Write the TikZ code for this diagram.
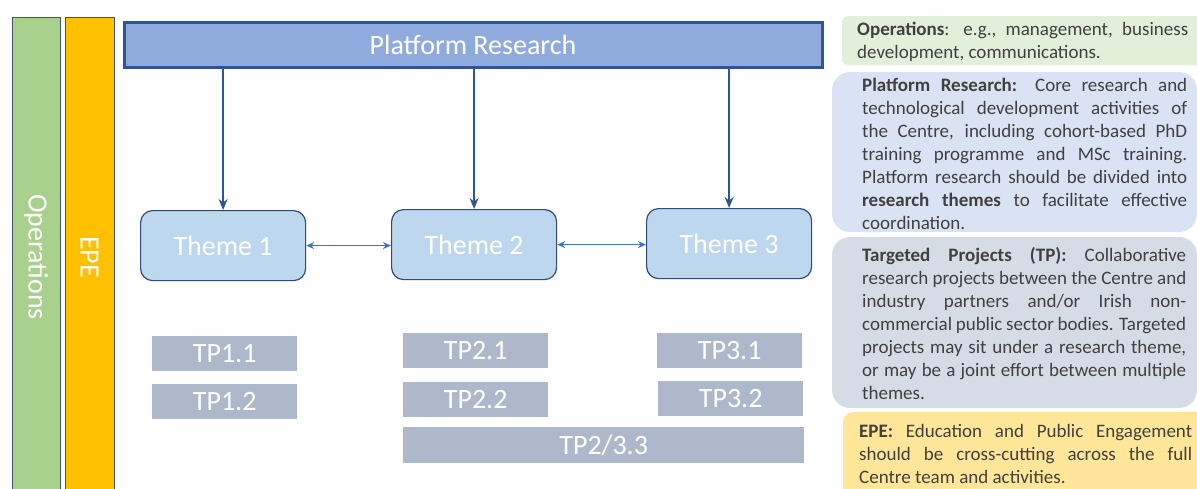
\documentclass[tikz,border=0pt]{standalone}
\usepackage{fontspec}
\setmainfont{Carlito}
\usetikzlibrary{arrows.meta}
\hyphenpenalty=10000
\tolerance=10000
\definecolor{opsgreen}{HTML}{A9D18E}
\definecolor{epegold}{HTML}{FFC000}
\definecolor{barline}{HTML}{44546A}
\definecolor{prfill}{HTML}{8FAADC}
\definecolor{prline}{HTML}{2F5597}
\definecolor{themefill}{HTML}{BDD7EE}
\definecolor{themeline}{HTML}{2F4B7C}
\definecolor{linkblue}{HTML}{4472C4}
\definecolor{tpfill}{HTML}{ADB9CA}
\definecolor{opslight}{HTML}{E2F0D9}
\definecolor{prlight}{HTML}{DAE3F3}
\definecolor{tplight}{HTML}{D6DCE5}
\definecolor{epelight}{HTML}{FFE699}
\definecolor{bodytext}{HTML}{404040}
\tikzset{
  bigfont/.style={font=\fontsize{28}{33}\selectfont, text=white},
  bar/.style={draw=barline, line width=1pt},
  theme/.style={bigfont, draw=themeline, line width=1.2pt, fill=themefill,
    rounded corners=12pt, minimum width=165pt, minimum height=70pt, inner sep=0pt},
  tpbox/.style={bigfont, fill=tpfill, minimum width=145pt, minimum height=35pt, inner sep=0pt},
  down/.style={draw=prline, line width=2.2pt, -{Stealth[length=11pt,width=9pt]}},
  link/.style={draw=linkblue, line width=1.5pt, {Stealth[length=8pt,width=7pt]}-{Stealth[length=8pt,width=7pt]}},
  desctext/.style={anchor=north west, inner sep=0pt, align=justify, text=bodytext,
    font=\fontsize{19}{23}\selectfont}
}
\begin{document}
\begin{tikzpicture}[x=1pt,y=-1pt]
\useasboundingbox (0,0) rectangle (1197,488);

% side bars
\draw[bar, fill=opsgreen] (12,17) rectangle (60,500);
\draw[bar, fill=epegold] (65,17) rectangle (114,500);
\node[bigfont, rotate=-90] (opslabel) at (36,257) {Operations};
\node[bigfont, rotate=-90] (epelabel) at (89.5,257) {EPE};

% platform research banner
\node[bigfont, draw=prline, line width=3pt, fill=prfill, minimum width=698pt,
  minimum height=45pt, inner sep=0pt, anchor=north west] (pr) at (122.5,20.5) {Platform Research};

% themes
\node[theme, anchor=north west] (t1) at (140,210) {Theme 1};
\node[theme, anchor=north west] (t2) at (391,209) {Theme 2};
\node[theme, anchor=north west] (t3) at (646,208) {Theme 3};

\draw[down] (t1.north |- pr.south) -- (t1.north);
\draw[down] (t2.north |- pr.south) -- (t2.north);
\draw[down] (t3.north |- pr.south) -- (t3.north);

\draw[link] (t1.east) -- (t1.east -| t2.west);
\draw[link] (t2.east) -- (t2.east -| t3.west);

% targeted projects
\node[tpbox, anchor=north west] (tp11) at (152,336) {TP1.1};
\node[tpbox, anchor=north west] (tp12) at (152,384) {TP1.2};
\node[tpbox, anchor=north west] (tp21) at (403,333) {TP2.1};
\node[tpbox, anchor=north west] (tp22) at (403,382) {TP2.2};
\node[tpbox, anchor=north west] (tp31) at (657,333) {TP3.1};
\node[tpbox, anchor=north west] (tp32) at (658,381) {TP3.2};
\node[tpbox, anchor=north west, minimum width=401pt, minimum height=36pt] (tp233) at (403,427) {TP2/3.3};

% description panels
\fill[opslight, rounded corners=6pt] (842,16) rectangle (1215,65);
\fill[prlight, rounded corners=18pt] (832,72) rectangle (1197,232);
\fill[tplight, rounded corners=18pt] (832,237) rectangle (1197,408);
\fill[epelight, rounded corners=10pt] (843,412) rectangle (1215,505);

\node[desctext, text width=331pt] (dops) at (857,22)
  {\textbf{Operations}: e.g., management, business\linebreak development, communications.};
\node[desctext, text width=325pt] (dpr) at (862,78)
  {\textbf{Platform Research:} Core research and\linebreak
   technological development activities of\linebreak
   the Centre, including cohort-based PhD\linebreak
   training programme and MSc training.\linebreak
   Platform research should be divided into\linebreak
   \textbf{research themes} to facilitate effective\linebreak
   coordination.};
\node[desctext, text width=324pt] (dtp) at (862,247)
  {\textbf{Targeted Projects (TP):} Collaborative\linebreak
   research projects between the Centre and\linebreak
   industry partners and/or Irish non-\linebreak
   commercial public sector bodies. Targeted\linebreak
   projects may sit under a research theme,\linebreak
   or may be a joint effort between multiple\linebreak
   themes.};
\node[desctext, text width=333pt] (depe) at (859,424)
  {\textbf{EPE:} Education and Public Engagement\linebreak
   should be cross-cutting across the full\linebreak
   Centre team and activities.};
\end{tikzpicture}
\end{document}
